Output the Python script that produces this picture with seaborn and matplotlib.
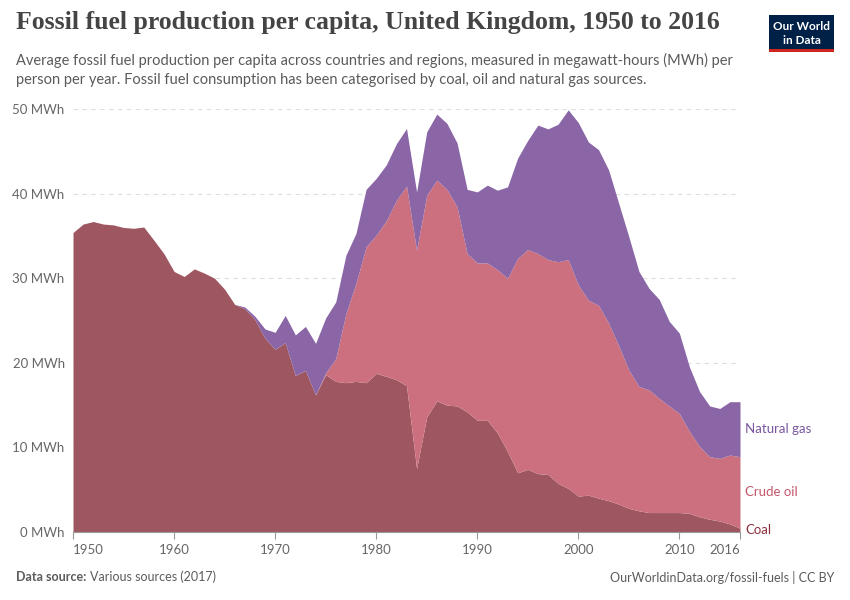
import matplotlib
matplotlib.use("Agg")
import matplotlib.pyplot as plt
import matplotlib.patches as mpatches
import seaborn as sns
import pandas as pd

# --- CONFIG ---
sns.set_theme(style="white")
plt.rcParams['font.family'] = ['Lato', 'DejaVu Sans']

COAL_COLOR = "#9E5760"
OIL_COLOR = "#CC7080"
GAS_COLOR = "#8A66A7"
LABEL_COLORS = {"Coal": "#8B2F3E", "Crude oil": "#C4556A", "Natural gas": "#7A56A0"}

# --- DATA (MWh per person) ---
years = list(range(1950, 2017))

coal = [35.4, 36.4, 36.7, 36.4, 36.3, 36.0, 35.9, 36.05, 34.5, 32.9,
        30.8, 30.2, 31.1, 30.6, 30.0, 28.7, 26.9, 26.4, 25.1, 22.9,
        21.6, 22.4, 18.5, 19.1, 16.2, 18.6, 17.8, 17.65, 17.8, 17.65,
        18.75, 18.4, 18.0, 17.3, 7.5, 13.6, 15.5, 15.0, 14.9, 14.2,
        13.2, 13.2, 11.7, 9.5, 7.0, 7.4, 6.9, 6.8, 5.75, 5.15,
        4.25, 4.35, 4.0, 3.7, 3.3, 2.8, 2.5, 2.3, 2.3, 2.3,
        2.3, 2.2, 1.8, 1.5, 1.3, 0.95, 0.45]

crude_oil = [0, 0, 0, 0, 0, 0, 0, 0, 0, 0,
             0, 0, 0, 0, 0, 0, 0, 0, 0, 0,
             0, 0, 0, 0, 0, 0.2, 2.7, 8.15, 11.6, 16.05,
             16.35, 18.4, 21.2, 23.6, 25.8, 26.2, 26.1, 25.5, 23.55, 18.7,
             18.6, 18.6, 19.3, 20.5, 25.35, 26.0, 26.0, 25.4, 26.2, 27.05,
             24.95, 23.05, 22.8, 21.0, 18.7, 16.35, 14.7, 14.5, 13.5, 12.6,
             11.7, 9.7, 8.3, 7.4, 7.4, 8.15, 8.45]

natural_gas = [0, 0, 0, 0, 0, 0, 0, 0, 0, 0,
               0, 0, 0, 0, 0, 0, 0, 0.2, 0.4, 1.1,
               2.0, 3.2, 4.8, 5.2, 6.1, 6.5, 6.7, 6.9, 5.9, 6.8,
               6.7, 6.6, 6.7, 6.8, 6.9, 7.5, 7.8, 7.8, 7.55, 7.6,
               8.4, 9.2, 9.4, 10.8, 11.85, 12.9, 15.2, 15.45, 16.25, 17.7,
               19.2, 18.7, 18.4, 18.1, 16.85, 15.75, 13.6, 12.0, 11.7, 10.0,
               9.5, 7.6, 6.5, 6.0, 5.9, 6.3, 6.5]

x_ticks = [1950, 1960, 1970, 1980, 1990, 2000, 2010, 2016]
y_ticks = [0, 10, 20, 30, 40, 50]

df = pd.DataFrame({"Year": years, "Coal": coal,
                   "Crude oil": crude_oil, "Natural gas": natural_gas})

# --- FIGURE ---
fig = plt.figure(figsize=(8.5, 6), dpi=100)
ax = fig.add_axes([73 / 850, 1 - 532 / 600, (740 - 73) / 850, (532 - 109) / 600])

ax.yaxis.grid(True, linestyle=(0, (4, 4)), color="#dddddd", linewidth=0.8, zorder=0)
ax.set_axisbelow(True)

ax.stackplot(df["Year"], df["Coal"], df["Crude oil"], df["Natural gas"],
             colors=[COAL_COLOR, OIL_COLOR, GAS_COLOR], linewidth=0, zorder=2)

ax.set_xlim(1950, 2016)
ax.set_ylim(0, 50)
ax.set_yticks(y_ticks)
ax.set_yticklabels([f"{v} MWh" for v in y_ticks])
ax.set_xticks(x_ticks)
ax.set_xticklabels([str(v) for v in x_ticks])
ax.tick_params(axis="y", length=0, pad=6, labelsize=9.5, labelcolor="#666666")
ax.tick_params(axis="x", length=5, width=0.8, color="#999999", pad=4,
               labelsize=9.5, labelcolor="#666666", bottom=True, direction="out")
xlabs = ax.get_xticklabels()
xlabs[0].set_horizontalalignment("left")
xlabs[-1].set_horizontalalignment("right")

for s in ["top", "right", "left"]:
    ax.spines[s].set_visible(False)
ax.spines["bottom"].set_color("#999999")
ax.spines["bottom"].set_linewidth(0.8)
ax.spines["bottom"].set_zorder(3)
ax.set_xlabel("")
ax.set_ylabel("")

# series labels at the right end
last = df.iloc[-1]
label_y = {
    "Coal": last["Coal"] / 2,
    "Crude oil": last["Coal"] + last["Crude oil"] / 2,
    "Natural gas": last["Coal"] + last["Crude oil"] + last["Natural gas"] / 2,
}
for name, yv in label_y.items():
    ax.text(2016.5, yv, name, color=LABEL_COLORS[name], fontsize=9.5,
            va="center", ha="left", clip_on=False)

# --- TITLE / SUBTITLE ---
fig.text(16 / 850, 1 - 22 / 600, "Fossil fuel production per capita, United Kingdom, 1950 to 2016",
         fontsize=18.5, fontweight="bold", family=["Liberation Serif", "DejaVu Serif"],
         color="#444444", va="center", ha="left")
fig.text(16 / 850, 1 - 60 / 600,
         "Average fossil fuel production per capita across countries and regions, measured in megawatt-hours (MWh) per",
         fontsize=10.5, color="#5b5b5b", va="center", ha="left")
fig.text(16 / 850, 1 - 80 / 600,
         "person per year. Fossil fuel consumption has been categorised by coal, oil and natural gas sources.",
         fontsize=10.5, color="#5b5b5b", va="center", ha="left")

# --- LOGO ---
logo = mpatches.Rectangle((769 / 850, 1 - 52 / 600), 65 / 850, 37 / 600,
                          transform=fig.transFigure, facecolor="#002147", edgecolor="none")
stripe = mpatches.Rectangle((769 / 850, 1 - 52 / 600), 65 / 850, 3 / 600,
                            transform=fig.transFigure, facecolor="#CE261E", edgecolor="none")
fig.patches.extend([logo, stripe])
fig.text(801.5 / 850, 1 - 27 / 600, "Our World", color="white", fontsize=8.5,
         fontweight="bold", ha="center", va="center")
fig.text(801.5 / 850, 1 - 40 / 600, "in Data", color="white", fontsize=8.5,
         fontweight="bold", ha="center", va="center")

# --- FOOTER ---
fig.text(16 / 850, 1 - 577 / 600, "Data source:", fontsize=9, color="#5b5b5b",
         fontweight="bold", va="center", ha="left")
fig.text(90 / 850, 1 - 577 / 600, "Various sources (2017)", fontsize=9, color="#5b5b5b",
         va="center", ha="left")
fig.text(834 / 850, 1 - 577 / 600, "OurWorldinData.org/fossil-fuels | CC BY", fontsize=9,
         color="#5b5b5b", va="center", ha="right")

fig.savefig("out.png", dpi=100)
plt.close(fig)
